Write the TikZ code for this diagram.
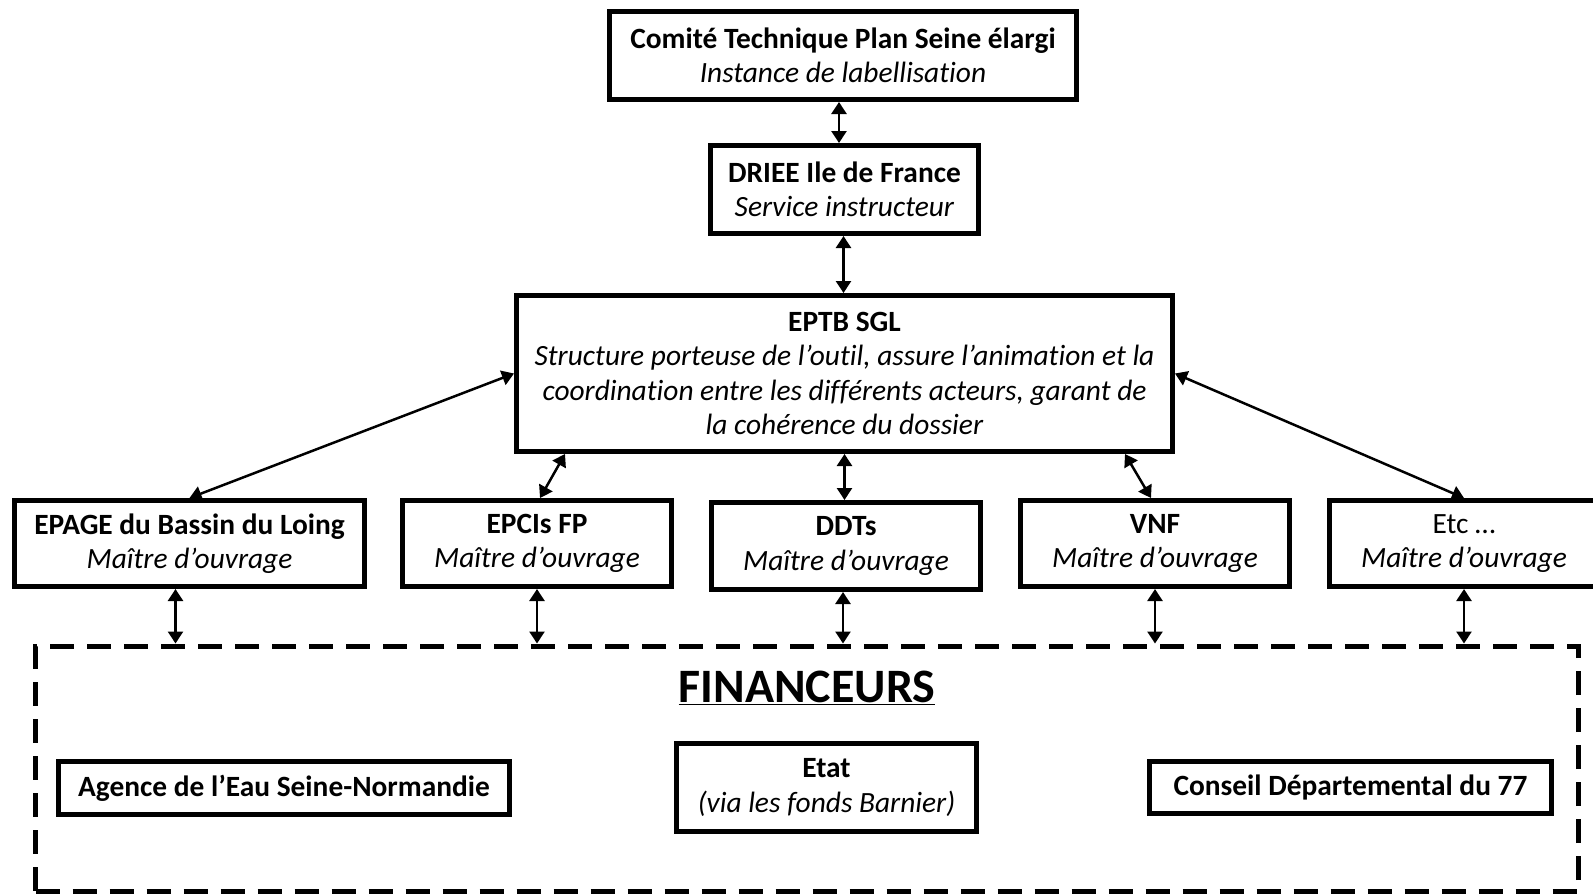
\documentclass[tikz,border=0pt]{standalone}
\usepackage{fontspec}
\setmainfont{Carlito}[Ligatures=NoCommon]
\usetikzlibrary{arrows.meta}
\begin{document}
\begin{tikzpicture}[x=1pt,y=-1pt,
  box/.style={draw=black,line width=5pt,fill=white,inner sep=0pt,align=center,
    font=\fontsize{29.4}{34.5}\selectfont},
  dbox/.style={draw=black,line width=5pt,dash pattern=on 24pt off 13pt,inner sep=0pt},
  link/.style={line width=2.5pt,{Triangle[length=12pt,width=15pt]}-{Triangle[length=12pt,width=15pt]}}]
\useasboundingbox (0,0) rectangle (1593,895);
\fill[white] (0,0) rectangle (1593,895);
\begin{scope}
\clip (0,0) rectangle (1593,895);
\node[box,minimum width=467pt,minimum height=88pt] (comite) at (843,55.5)
  {\textbf{Comité Technique Plan Seine élargi}\\\textit{Instance de labellisation}};
\node[box,minimum width=268pt,minimum height=88pt] (driee) at (844.5,189.5)
  {\textbf{DRIEE Ile de France}\\\textit{Service instructeur}};
\node[box,minimum width=656pt,minimum height=156pt] (eptb) at (844.5,373.5)
  {\textbf{EPTB SGL}\\\textit{Structure porteuse de l’outil, assure l’animation et la}\\\textit{coordination entre les différents acteurs, garant de}\\\textit{la cohérence du dossier}};
\node[box,minimum width=350pt,minimum height=86pt] (epage) at (189.5,543.5)
  {\textbf{EPAGE du Bassin du Loing}\\\textit{Maître d’ouvrage}};
\node[box,minimum width=269pt,minimum height=86pt] (epcis) at (537,543.5)
  {\textbf{EPCIs FP}\\\textit{Maître d’ouvrage}};
\node[box,minimum width=269pt,minimum height=87pt] (ddts) at (846,546)
  {\textbf{DDTs}\\\textit{Maître d’ouvrage}};
\node[box,minimum width=269pt,minimum height=86pt] (vnf) at (1155,543.5)
  {\textbf{VNF}\\\textit{Maître d’ouvrage}};
\node[box,minimum width=269pt,minimum height=86pt] (etc) at (1464,543.5)
  {Etc …\\\textit{Maître d’ouvrage}};
\node[dbox,minimum width=1543pt,minimum height=245pt] (fin) at (807,768.5) {};
\node[inner sep=0pt,font=\fontsize{48}{52}\selectfont\bfseries] (title) at (807,688)
  {\underline{FINANCEURS}};
\node[box,minimum width=451pt,minimum height=53pt] (agence) at (284,788)
  {\textbf{Agence de l’Eau Seine-Normandie}};
\node[box,minimum width=300pt,minimum height=88pt] (etat) at (826.5,787.5)
  {\textbf{Etat}\\\textit{(via les fonds Barnier)}};
\node[box,minimum width=402pt,minimum height=52pt] (conseil) at (1350.5,787.5)
  {\textbf{Conseil Départemental du 77}};

\draw[link] ([xshift=-4pt]comite.south) -- ([xshift=-4pt]comite.south |- driee.north);
\draw[link] ([xshift=-1pt]driee.south) -- ([xshift=-1pt]driee.south |- eptb.north);
\draw[link] (eptb.west) -- (epage.north);
\draw[link] (eptb.east) -- (etc.north);
\draw[link] ([xshift=51pt]eptb.south west) -- ([xshift=3pt]epcis.north);
\draw[link] (eptb.south) -- (eptb.south |- ddts.north);
\draw[link] ([xshift=-50pt]eptb.south east) -- ([xshift=-4pt]vnf.north);
\draw[link] ([xshift=-14pt]epage.south) -- ([xshift=-14pt]epage.south |- fin.north);
\draw[link] (epcis.south) -- (epcis.south |- fin.north);
\draw[link] ([xshift=-3pt]ddts.south) -- ([xshift=-3pt]ddts.south |- fin.north);
\draw[link] (vnf.south) -- (vnf.south |- fin.north);
\draw[link] (etc.south) -- (etc.south |- fin.north);
\end{scope}
\end{tikzpicture}
\end{document}
